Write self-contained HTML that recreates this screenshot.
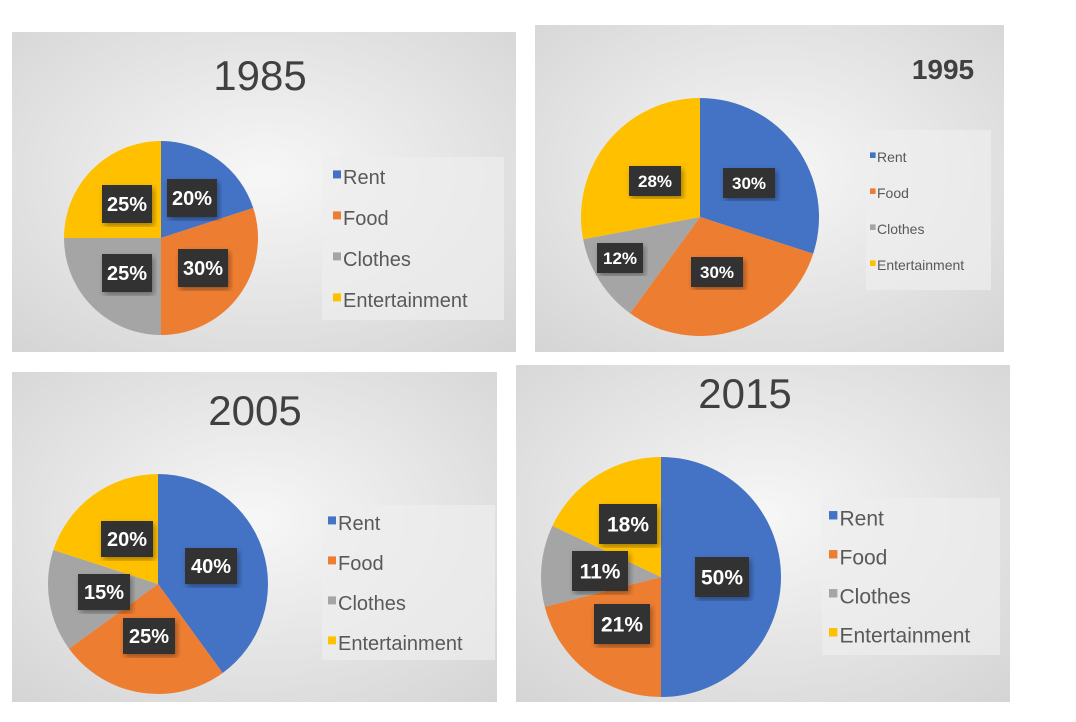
<!DOCTYPE html>
<html><head><meta charset="utf-8"><style>
body{margin:0;background:#fff;width:1076px;height:717px;overflow:hidden;font-family:"Liberation Sans",sans-serif}
</style></head><body>
<svg width="1076" height="717" viewBox="0 0 1076 717" xmlns="http://www.w3.org/2000/svg" font-family="Liberation Sans, sans-serif">
<defs>
<radialGradient id="bg" cx="50%" cy="45%" r="75%"><stop offset="0" stop-color="#f7f7f7"/><stop offset="1" stop-color="#d4d4d4"/></radialGradient>
<filter id="sh"><feDropShadow dx="2" dy="3" stdDeviation="3" flood-opacity="0.35"/></filter>
</defs>
<rect x="12" y="32" width="504" height="320" fill="url(#bg)"/>
<rect x="535" y="25" width="469" height="327" fill="url(#bg)"/>
<rect x="12" y="372" width="485" height="330" fill="url(#bg)"/>
<rect x="516" y="365" width="494" height="337" fill="url(#bg)"/>
<rect x="322" y="157" width="182" height="163" fill="#eeeeee" opacity="0.7"/>
<rect x="866" y="130" width="125" height="160" fill="#eeeeee" opacity="0.7"/>
<rect x="322" y="505" width="173" height="155" fill="#eeeeee" opacity="0.7"/>
<rect x="822" y="498" width="178" height="157" fill="#eeeeee" opacity="0.7"/>
<g id="p"></g>
<text x="260" y="90" font-size="42" text-anchor="middle" fill="#404040">1985</text>
<text x="943" y="79" font-size="28" font-weight="bold" text-anchor="middle" fill="#404040">1995</text>
<text x="255" y="425" font-size="42" text-anchor="middle" fill="#404040">2005</text>
<text x="745" y="408" font-size="42" text-anchor="middle" fill="#404040">2015</text>
</svg>
<script>
const g=document.getElementById('p');
const C=['#4472c4','#ed7d31','#a5a5a5','#ffc000'],N=['Rent','Food','Clothes','Entertainment'];
function pie(cx,cy,r,v,lab,leg){let a=0;v.forEach((p,i)=>{const a0=a*Math.PI/50,a1=(a+p)*Math.PI/50;a+=p;
const x0=cx+r*Math.sin(a0),y0=cy-r*Math.cos(a0),x1=cx+r*Math.sin(a1),y1=cy-r*Math.cos(a1);
const el=document.createElementNS('http://www.w3.org/2000/svg','path');
el.setAttribute('d',`M${cx},${cy}L${x0},${y0}A${r},${r} 0 ${p>50?1:0} 1 ${x1},${y1}Z`);el.setAttribute('fill',C[i]);g.appendChild(el);});
let h='';lab.forEach(([x,y,w,hh,t,fs])=>{h+=`<rect x="${x-w/2}" y="${y-hh/2}" width="${w}" height="${hh}" fill="#333" filter="url(#sh)"/><text x="${x}" y="${y+fs*0.36}" font-size="${fs}" font-weight="bold" fill="#fff" text-anchor="middle">${t}</text>`});
const [lx,ly,dy,fs]=leg;N.forEach((n,i)=>{h+=`<rect x="${lx}" y="${ly+i*dy-fs*0.33}" width="${fs*0.4}" height="${fs*0.4}" fill="${C[i]}"/><text x="${lx+fs*0.5}" y="${ly+i*dy+fs*0.35}" font-size="${fs}" fill="#595959">${n}</text>`});
g.insertAdjacentHTML('beforeend',h);}
pie(161,238,97,[20,30,25,25],[[192,198,50,38,'20%',20],[127,204,50,38,'25%',20],[203,268,50,38,'30%',20],[127,273,50,38,'25%',20]],[333,177,41,20]);
pie(700,217,119,[30,30,12,28],[[749,183,52,30,'30%',17],[655,181,52,30,'28%',17],[717,272,52,30,'30%',17],[620,258,46,30,'12%',17]],[870,157,36,14]);
pie(158,584,110,[40,25,15,20],[[211,566,52,36,'40%',20],[127,539,52,36,'20%',20],[104,592,52,36,'15%',20],[149,636,52,36,'25%',20]],[328,523,40,20]);
pie(661,577,120,[50,21,11,18],[[722,577,54,40,'50%',21],[628,524,58,40,'18%',21],[600,571,56,40,'11%',21],[622,624,56,40,'21%',21]],[829,518,39,21]);
</script>
</body></html>
